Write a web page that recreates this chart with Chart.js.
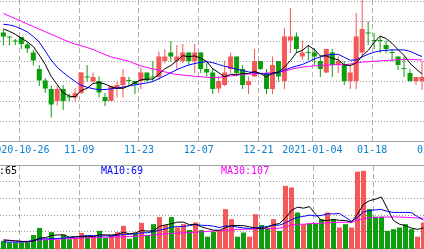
<!DOCTYPE html>
<html>
<head>
<meta charset="utf-8">
<script src="https://cdn.jsdelivr.net/npm/chart.js@4.4.0/dist/chart.umd.min.js"></script>
<style>
  html, body { margin: 0; padding: 0; background: #fff; }
  #wrap { position: relative; width: 424px; height: 249px; overflow: hidden; background: #fff; }
  #wrap canvas { position: absolute; left: -30px; }
  #kline { top: 0; }
  #vol { top: 165px; }
  .ma { position: absolute; top: 166px; height: 10px; font: 10px/10px "DejaVu Sans Mono", monospace; background: #fff; white-space: pre; }
</style>
</head>
<body>
<div id="wrap">
  <canvas id="kline" width="480" height="165"></canvas>
  <canvas id="vol" width="480" height="100"></canvas>
</div>
<script>
// trading days shown (partly cut off on both sides)
const dates = [
  '2020-10-21','2020-10-22','2020-10-23','2020-10-26','2020-10-27','2020-10-28','2020-10-29','2020-10-30',
  '2020-11-02','2020-11-03','2020-11-04','2020-11-05','2020-11-06','2020-11-09','2020-11-10','2020-11-11',
  '2020-11-12','2020-11-13','2020-11-16','2020-11-17','2020-11-18','2020-11-19','2020-11-20','2020-11-23',
  '2020-11-24','2020-11-25','2020-11-26','2020-11-27','2020-11-30','2020-12-01','2020-12-02','2020-12-03',
  '2020-12-04','2020-12-07','2020-12-08','2020-12-09','2020-12-10','2020-12-11','2020-12-14','2020-12-15',
  '2020-12-16','2020-12-17','2020-12-18','2020-12-21','2020-12-22','2020-12-23','2020-12-24','2020-12-25',
  '2020-12-28','2020-12-29','2020-12-30','2020-12-31','2021-01-04','2021-01-05','2021-01-06','2021-01-07',
  '2021-01-08','2021-01-11','2021-01-12','2021-01-13','2021-01-14','2021-01-15','2021-01-18','2021-01-19',
  '2021-01-20','2021-01-21','2021-01-22','2021-01-25','2021-01-26','2021-01-27','2021-01-28'
];
const tickIndex = [3, 13, 23, 33, 43, 52, 62, 72];
const tickLabels = ['2020-10-26', '11-09', '11-23', '12-07', '12-21', '2021-01-04', '01-18', '02-01'];

const open = [15.46,15.24,15.04,15.23,14.86,14.46,13.64,13.06,12.64,12.04,
  12.64,12.26,12.21,12.43,13.24,13.01,13.04,12.23,12.04,12.68,
  12.84,13.06,13.04,13.04,13.46,13.24,13.23,14.04,14.46,14.04,
  14.04,14.46,14.04,14.46,13.64,13.46,12.66,12.84,13.64,14.26,
  13.64,12.84,13.26,14.04,13.43,12.63,14.04,13.04,15.06,15.26,
  14.26,14.48,14.46,14.04,13.46,14.46,13.84,13.84,13.04,13.04,
  14.46,15.44,15.08,15.08,14.84,14.48,14.26,13.66,13.43,13.04,
  13.04];
const high = [15.61,15.26,15.14,15.24,14.96,14.59,13.84,13.18,12.81,12.81,
  12.84,12.39,12.68,13.49,13.84,13.46,13.26,12.43,12.79,13.01,
  13.63,13.23,13.04,13.71,13.46,14.04,14.51,14.64,15.04,14.84,
  14.88,14.46,14.88,14.46,13.93,13.68,13.26,14.04,14.46,14.26,
  13.84,13.26,14.64,14.04,13.64,14.26,14.04,15.68,16.68,15.46,
  15.06,14.84,14.68,14.26,14.64,14.64,14.26,14.04,13.84,16.43,
  17.34,16.01,15.43,15.29,15.06,14.64,14.26,14.26,13.64,13.23,
  14.04];
const low = [14.81,14.81,14.84,14.63,14.43,13.81,12.79,12.43,11.21,11.81,
  11.59,12.01,12.01,12.39,13.01,12.93,12.21,11.79,12.04,12.21,
  12.21,12.84,12.39,12.63,13.01,13.01,13.09,13.93,14.01,13.59,
  13.93,13.84,13.43,13.43,13.26,12.39,12.43,12.79,13.43,13.26,
  12.63,12.39,13.23,13.59,12.39,12.39,13.01,12.63,14.43,14.43,
  14.09,14.06,13.84,13.23,13.43,13.23,13.43,12.84,12.63,12.63,
  14.26,14.84,14.64,14.43,14.43,14.01,13.59,13.23,13.01,12.84,
  12.59];
const close = [15.26,15.21,15.01,14.88,14.66,14.06,13.06,12.66,11.86,12.64,
  12.04,12.21,12.43,13.46,13.21,13.23,12.46,12.04,12.79,12.84,
  13.23,13.03,12.88,13.46,13.06,13.21,14.26,14.26,14.26,14.26,
  14.46,14.04,14.46,13.64,13.46,12.63,13.04,13.46,14.26,13.43,
  12.84,13.04,14.04,13.64,12.63,13.84,13.26,15.26,15.26,14.64,
  14.46,14.44,14.26,13.64,14.64,13.84,14.04,13.04,13.46,15.26,
  15.64,15.41,15.04,15.04,14.64,14.44,13.84,13.63,13.04,13.23,
  13.23];
const ma5 = [15.64,15.52,15.37,15.17,15.00,14.76,14.33,13.86,13.26,12.85,
  12.45,12.28,12.24,12.56,12.67,12.91,12.96,12.88,12.75,12.67,
  12.67,12.79,12.95,13.09,13.13,13.13,13.37,13.65,13.81,14.05,
  14.30,14.25,14.29,14.17,14.01,13.65,13.45,13.25,13.37,13.36,
  13.41,13.41,13.52,13.40,13.24,13.44,13.48,13.73,14.05,14.45,
  14.57,14.81,14.61,14.29,14.29,14.17,14.09,13.84,13.81,13.93,
  14.29,14.56,14.96,15.28,15.16,14.92,14.60,14.32,13.92,13.64,
  13.39];
const ma10 = [15.87,15.84,15.76,15.64,15.49,15.26,14.98,14.53,14.08,13.72,
  13.46,13.23,13.01,12.82,12.72,12.65,12.60,12.61,12.64,12.68,
  12.73,12.79,12.84,12.89,12.94,13.01,13.15,13.30,13.45,13.60,
  13.73,13.83,13.91,13.97,14.00,13.95,13.86,13.77,13.70,13.62,
  13.56,13.49,13.45,13.42,13.37,13.39,13.46,13.58,13.69,13.78,
  13.86,13.99,14.14,14.24,14.33,14.36,14.37,14.22,14.07,14.09,
  14.24,14.37,14.48,14.54,14.57,14.59,14.59,14.59,14.52,14.38,
  14.26];
const ma30 = [16.41,16.28,16.15,16.02,15.89,15.76,15.63,15.50,15.37,15.24,
  15.11,14.99,14.88,14.80,14.71,14.61,14.48,14.36,14.24,14.17,
  14.09,14.02,13.90,13.79,13.71,13.64,13.57,13.49,13.42,13.36,
  13.33,13.30,13.27,13.25,13.22,13.20,13.22,13.26,13.29,13.32,
  13.36,13.38,13.39,13.41,13.43,13.45,13.47,13.53,13.61,13.68,
  13.73,13.76,13.79,13.81,13.83,13.84,13.85,13.85,13.88,13.93,
  13.98,14.00,14.02,14.04,14.06,14.08,14.10,14.12,14.12,14.10,
  14.09];

const volume = [58,54,54,54,54,72,89,60,79,61,
  73,62,65,77,69,69,82,65,73,79,
  94,63,77,101,72,98,115,96,115,90,
  98,84,102,84,68,80,82,134,110,68,
  78,68,122,96,88,110,82,190,186,126,
  98,100,100,110,126,110,90,98,90,224,
  226,134,116,116,82,86,90,98,86,68,
  102];
const volMa5 = [60,59,58,57,54.8,57.6,64.6,65.8,70.8,72.2,
  72.4,67,68,67.6,69.2,68.4,72.4,72.4,71.6,73.6,
  78.6,74.8,77.2,82.8,81.4,82.2,92.6,96.4,99.2,102.8,
  102.8,96.6,97.8,91.6,87.2,83.6,83.2,89.6,94.8,94.8,
  94.4,91.6,89.2,86.4,90.4,96.8,99.6,113.2,131.2,138.8,
  136.4,140,122,106.8,106.8,109.2,107.2,106.8,102.8,122.4,
  145.6,154.4,158,163.2,134.8,106.8,98,94.4,88.4,85.6,
  88.8];
const volMa10 = [55,55,55,55,56,59,62,63,63,63.5,
  65,65.8,66.9,69.2,70.7,70.4,69.7,70.2,69.6,71.4,
  73.5,73.6,74.8,77.2,77.5,80.4,83.7,86.8,91,92.1,
  92.5,94.6,97.1,95.4,95,93.2,89.9,93.7,93.2,91,
  89,87.4,89.4,90.6,92.6,95.6,95.6,101.2,108.8,114.6,
  116.6,119.8,117.6,119,122.8,122.8,123.6,114.4,104.8,114.6,
  127.4,130.8,132.4,133,128.6,126.2,126.2,126.2,125.8,116,
  108];
const volMa30 = [60,59.3,57.6,56.4,56.9,58.8,60,60.5,61.4,62.2,
  62.9,63.4,63.8,64.6,65.3,66,66.5,66.7,67,67.4,
  67.7,68.2,68.9,70.1,71.3,72,73.4,74.6,75.8,76.6,
  77.3,78,78.7,79.4,80.6,81.6,82.6,83.3,84.2,85.2,
  85.7,86.2,86.4,86.9,87.1,87.6,88.1,92.3,96.1,97.7,
  97.9,99.1,99.8,100.2,101.6,102,102.3,102.8,102.8,107.3,
  111.6,113.2,114,114.8,115.1,115.3,115,114.5,113.6,112.8,
  112.5];
const volMaLabels = ['MA5:65', 'MA10:69', 'MA30:107'];

const UP = '#f45858', DOWN = '#0c9e0c';
const MA_COLORS = ['#000000', '#0000ff', '#ff00ff'];

const candleColor = dates.map((d, i) => close[i] >= open[i] ? UP : DOWN);
const pts = arr => arr.map((v, i) => ({ x: i, y: v }));

// 6px per trading day, day 0 centred at x = 3.5 of the visible frame
const X_MIN = -5.5833, X_MAX = 74.4167;

function xScale(withLabels) {
  return {
    type: 'linear', min: X_MIN, max: X_MAX, offset: false,
    position: withLabels ? 'bottom' : 'top',
    afterBuildTicks: ax => { ax.ticks = tickIndex.map(i => ({ value: i - 1 / 3 })); },
    afterFit: ax => { ax.height = withLabels ? 24 : 0; },
    grid: { color: '#b0b0b0', lineWidth: 1, drawTicks: false, offset: false },
    border: { display: true, color: '#a0a0a0', width: 1, dash: [5, 3] },
    ticks: {
      display: withLabels, autoSkip: false, maxRotation: 0, padding: 3,
      color: '#0a82d2', font: { family: 'DejaVu Sans Mono', size: 10 },
      callback: (v, i) => tickLabels[i]
    }
  };
}

function maLine(data, color) {
  return { type: 'line', data: pts(data), borderColor: color, borderWidth: 1,
    pointRadius: 0, tension: 0, fill: false, order: 0 };
}

const common = {
  responsive: false, animation: false, devicePixelRatio: 1, events: [],
  layout: { padding: 0 },
  plugins: { legend: { display: false }, tooltip: { enabled: false } }
};

new Chart(document.getElementById('kline'), {
  type: 'bar',
  data: {
    datasets: [
      maLine(ma5, MA_COLORS[0]),
      maLine(ma10, MA_COLORS[1]),
      maLine(ma30, MA_COLORS[2]),
      { data: dates.map((d, i) => ({ x: i, y: [open[i], close[i]] })),
        backgroundColor: candleColor, barThickness: 5, minBarLength: 1,
        grouped: false, inflateAmount: 0, order: 1 },
      { data: dates.map((d, i) => ({ x: i, y: [low[i], high[i]] })),
        backgroundColor: candleColor, barThickness: 1,
        grouped: false, inflateAmount: 0, order: 2 }
    ]
  },
  options: {
    ...common,
    scales: {
      x: xScale(true),
      y: {
        min: 10.035, max: 17.085, beginAtZero: false,
        afterFit: ax => { ax.width = 0; },
        ticks: { display: false, stepSize: 1, includeBounds: false },
        grid: { color: '#9a9a9a', drawTicks: false },
        border: { display: false, dash: [1, 2] }
      }
    }
  }
});

new Chart(document.getElementById('vol'), {
  type: 'bar',
  data: {
    datasets: [
      maLine(volMa5, MA_COLORS[0]),
      maLine(volMa10, MA_COLORS[1]),
      maLine(volMa30, MA_COLORS[2]),
      { data: pts(volume), backgroundColor: candleColor, barThickness: 5,
        grouped: false, inflateAmount: 0, order: 1 }
    ]
  },
  options: {
    ...common,
    scales: {
      x: xScale(false),
      y: {
        min: 0, max: 240, beginAtZero: true,
        afterFit: ax => { ax.width = 0; },
        ticks: { display: false, stepSize: 40 },
        grid: { color: c => (c.tick && c.tick.value > 0 && c.tick.value < 240) ? '#9a9a9a' : 'rgba(0,0,0,0)', drawTicks: false },
        border: { display: false, dash: [1, 2] }
      }
    }
  }
});

// volume MA readout above the volume bars
const maLeft = [-19, 101, 221];
const wrap = document.getElementById('wrap');
volMaLabels.forEach((txt, i) => {
  const s = document.createElement('span');
  s.className = 'ma';
  s.style.left = maLeft[i] + 'px';
  s.style.color = MA_COLORS[i];
  s.textContent = txt;
  wrap.appendChild(s);
});
</script>
</body>
</html>
